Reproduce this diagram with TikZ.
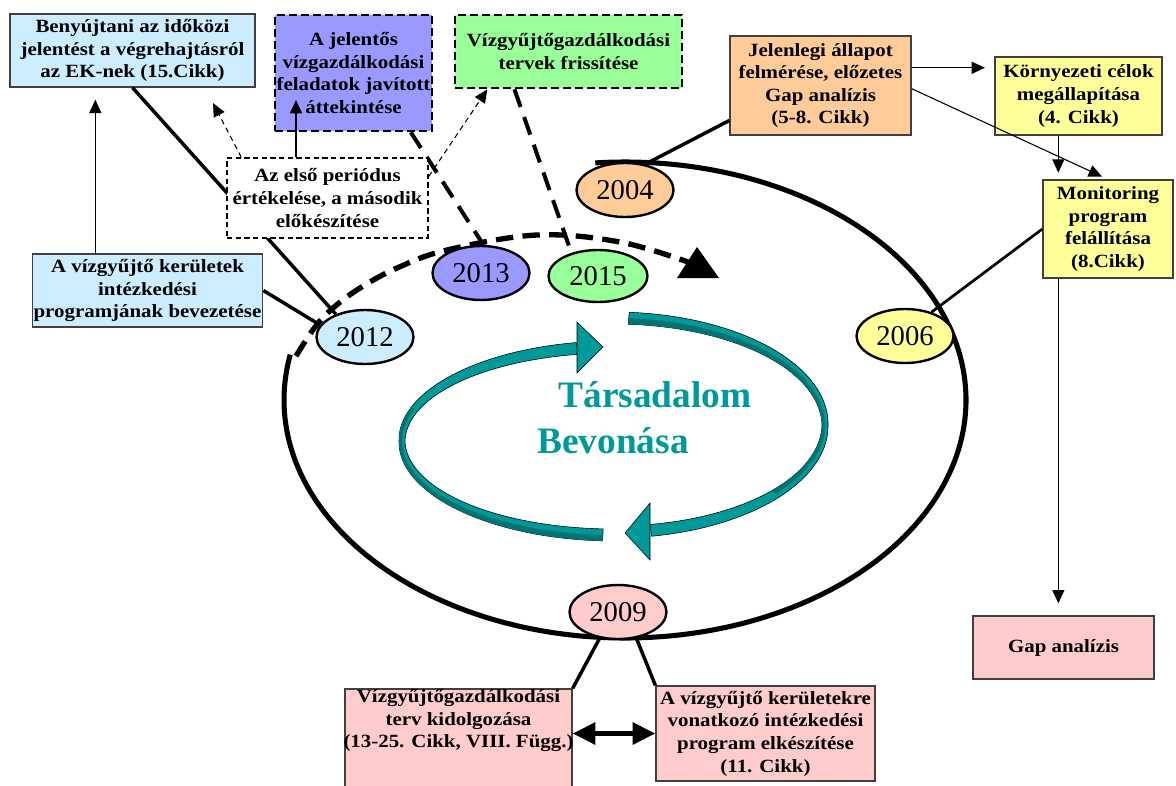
\documentclass[tikz,border=0pt]{standalone}
\usepackage{fontspec}
\setmainfont{Liberation Serif}
\newfontfamily\bxfam{Liberation Serif}[FakeStretch=1.12]
\usetikzlibrary{shapes.geometric,arrows.meta,calc}
\definecolor{cblue}{HTML}{CCECFF}
\definecolor{cpurple}{HTML}{9999FF}
\definecolor{cgreen}{HTML}{99FF99}
\definecolor{corange}{HTML}{FFCC99}
\definecolor{cyellow}{HTML}{FFFF99}
\definecolor{cpink}{HTML}{FFCCCC}
\definecolor{cteal}{HTML}{009999}
\definecolor{cdteal}{HTML}{007373}
\definecolor{cborder}{HTML}{404040}
\newcommand\bxfont{\bxfam\fontsize{14}{17}\selectfont\bfseries}
\newcommand\yrfont{\fontsize{21.5}{24}\selectfont}
\newcommand\bigfont{\fontsize{28}{32}\selectfont\bfseries}
\begin{document}
\begin{tikzpicture}[x=0.75pt,y=-0.75pt,
  bx/.style 2 args={rectangle, draw=cborder, line width=1pt, inner sep=1pt, align=center,
     minimum width=#1*0.75pt, minimum height=#2*0.75pt, font=\bxfont},
  dbx/.style={draw=black, line width=2pt, dash pattern=on 6pt off 3pt},
  wbx/.style={draw=black, line width=1.1pt, dash pattern=on 4pt off 2.5pt, fill=white},
  yr/.style={ellipse, draw=black, line width=1.8pt, inner sep=0pt,
     minimum width=97*0.75pt, minimum height=54*0.75pt, font=\yrfont},
  conn/.style={line width=2.6pt},
  thinarr/.style={line width=1pt, -{Triangle[length=10pt,width=9pt]}},
  thindash/.style={line width=0.8pt, dash pattern=on 4pt off 3pt, -{Triangle[length=10pt,width=9pt]}},
  thickdash/.style={line width=3pt, dash pattern=on 14pt off 8pt},
  ribbon/.style={fill=cteal, draw=black, line width=0.4pt}
]
\useasboundingbox (0,0) rectangle (1176,785);

% big cycle (solid part)
\draw[line width=3.8pt] plot[domain=265:551, samples=150, smooth] ({625+341*cos(\x)},{400+238*sin(\x)});
% dashed part of the cycle
\draw[line width=4pt, dash pattern=on 13pt off 7pt] plot[smooth, tension=0.6] coordinates
  {(296,356) (315,327) (333,308) (360,288) (397,268) (447,250) (537,235) (620,242) (688,262)};
\fill (677,278) -- (719,278) -- (697,247) -- cycle;

% inner teal arrows
\draw[ribbon] plot[domain=-86:80, samples=80] ({614+(211+3+3*abs(sin(\x)))*cos(\x)},{425+(107+3+3*abs(sin(\x)))*sin(\x)})
  -- plot[domain=80:-86, samples=80] ({614+(211-3-3*abs(sin(\x)))*cos(\x)},{425+(107-3-3*abs(sin(\x)))*sin(\x)}) -- cycle;
\fill[cdteal] plot[domain=-86:40, samples=60] ({614+(211-3-3*abs(sin(\x)))*cos(\x)},{425+(107-3-3*abs(sin(\x)))*sin(\x)})
  -- plot[domain=40:-86, samples=60] ({614+(211)*cos(\x)},{425+(107)*sin(\x)}) -- cycle;
\draw[ribbon] (625,533) -- (650,503) -- (650,560) -- cycle;
\draw[ribbon] plot[domain=93:260, samples=80] ({614+(212+3+3*abs(sin(\x)))*cos(\x)},{441+(94+3+3*abs(sin(\x)))*sin(\x)})
  -- plot[domain=260:93, samples=80] ({614+(212-3-3*abs(sin(\x)))*cos(\x)},{441+(94-3-3*abs(sin(\x)))*sin(\x)}) -- cycle;
\fill[cdteal] plot[domain=93:200, samples=60] ({614+(212+3+3*abs(sin(\x)))*cos(\x)},{441+(94+3+3*abs(sin(\x)))*sin(\x)})
  -- plot[domain=200:93, samples=60] ({614+(212)*cos(\x)},{441+(94)*sin(\x)}) -- cycle;
\draw[ribbon] (603,347) -- (577,322) -- (577,373) -- cycle;
\node[text=cteal, font=\bigfont, anchor=base] (t1) at (655,407) {Társadalom};
\node[text=cteal, font=\bigfont, anchor=base] (t2) at (613,453) {Bevonása};

% boxes
\node[bx={245}{73}, fill=cblue] (b1) at (132.5,50.5) {Benyújtani az időközi\\ jelentést a végrehajtásról\\ az EK-nek (15.Cikk)};
\node[bx={157}{116}, fill=cpurple, dbx] (b2) at (353.5,73) {A jelentős\\ vízgazdálkodási\\ feladatok javított\\ áttekintése};
\node[bx={227}{73}, fill=cgreen, dbx] (b3) at (568.5,51.5) {Vízgyűjtőgazdálkodási\\ tervek frissítése};
\node[bx={181}{99}, fill=corange] (b4) at (820.5,85.5) {Jelenlegi állapot\\ felmérése, előzetes\\ Gap analízis\\ (5-8. Cikk)};
\node[bx={167}{78}, fill=cyellow] (b5) at (1078.5,96) {Környezeti célok\\ megállapítása\\ (4. Cikk)};
\node[bx={130}{98}, fill=cyellow] (b6) at (1108,229) {Monitoring\\ program\\ felállítása\\ (8.Cikk)};
\node[bx={181}{63}, fill=cpink] (b7) at (1063.5,647.5) {Gap analízis};
\node[bx={229}{73}, fill=cblue] (b8) at (147.5,290.5) {A vízgyűjtő kerületek\\ intézkedési\\ programjának bevezetése};
\node[bx={227}{101}, fill=cpink] (b10) at (458.5,739.5) {};
\node[font=\bxfont, align=center, anchor=north, inner sep=0pt] (b10t) at ([yshift=-0.5pt]b10.north) {Vízgyűjtőgazdálkodási\\ terv kidolgozása\\ (13-25. Cikk, VIII. Függ.)};
\node[bx={219}{95}, fill=cpink] (b11) at (765.5,733.5) {A vízgyűjtő kerületekre\\ vonatkozó intézkedési\\ program elkészítése\\ (11. Cikk)};

% year ellipses
\node[yr, fill=corange] (e04) at (625,190) {2004};
\node[yr, fill=cyellow] (e06) at (905,336) {2006};
\node[yr, fill=cpink] (e09) at (618,612) {2009};
\node[yr, fill=cblue] (e12) at (365,337) {2012};
\node[yr, fill=cpurple] (e13) at (481,273) {2013};
\node[yr, fill=cgreen, minimum width=99*0.75pt, minimum height=52*0.75pt] (e15) at (598,276) {2015};

% connectors
\draw[conn] (b1.south) -- (e12.142);
\draw[conn] (b8.east) -- (e12.165);
\draw[thinarr, shorten >=9pt] (b1.225 |- b8.north) -- (b1.225);
\draw[thickdash] (b2.314) -- (e13.85);
\draw[thickdash] (b3.215) -- (e15.139);
\draw[conn] (b4.201) -- (e04.52);
\draw[thinarr, shorten >=7pt] (b4.11) -- (b5.west |- b4.11);
\draw[line width=0.8pt, -{Triangle[length=10pt,width=9pt]}, shorten >=5pt] (b4.358) -- (b6.north);
\draw[thinarr, shorten >=5pt] (b5.243) -- (b5.243 |- b6.north);
\draw[thinarr, shorten >=9pt] (b6.225) -- (b6.225 |- b7.north);
\draw[line width=2pt] (b6.west) -- (e06.42);
\draw[conn] (e09.235) -- (b10.north east);
\draw[conn] (e09.305) -- (b11.north west);
\draw[line width=3.8pt, {Triangle[length=17pt,width=16pt]}-{Triangle[length=17pt,width=16pt]}] (b11.west -| b10.east) -- (b11.west);

% evaluation box and its arrows
\node[bx={201}{80}, wbx] (b9) at (327.5,198) {Az első periódus\\ értékelése, a második\\ előkészítése};
\coordinate (p1) at (213,103);
\coordinate (p2) at (296,100);
\draw[thindash] ($(b9.north west)+(15,0)$) -- (p1);
\draw[thinarr] (p2 |- b9.north) -- (p2);
\draw[thindash] (b9.12) -- (b3.205.5);
\end{tikzpicture}
\end{document}
